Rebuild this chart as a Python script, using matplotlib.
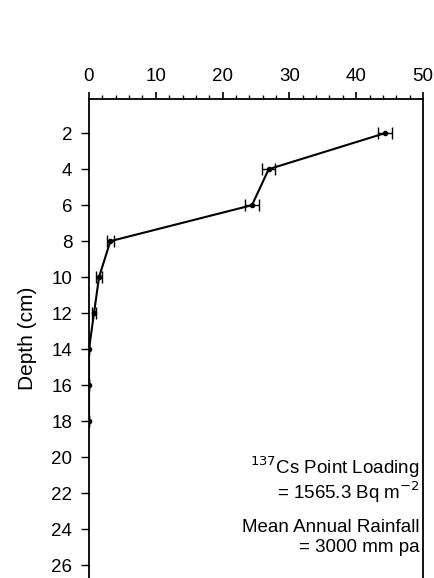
import matplotlib
matplotlib.use("Agg")
import matplotlib.pyplot as plt
from matplotlib.ticker import MultipleLocator

depth = [2, 4, 6, 8, 10, 12, 14, 16, 18]
activity = [44.3, 26.9, 24.4, 3.2, 1.5, 0.75, 0.0, 0.0, 0.0]
err = [1.0, 0.95, 1.05, 0.5, 0.4, 0.35, 0.0, 0.0, 0.0]
yticks = [2, 4, 6, 8, 10, 12, 14, 16, 18, 20, 22, 24, 26]

plt.rcParams['font.family'] = ['Liberation Sans', 'DejaVu Sans']

W, H = 435, 578
fig = plt.figure(figsize=(W / 100, H / 100), dpi=100)
left, right, top, bottom = 89, 423, 99, 578
ax = fig.add_axes([left / W, 1 - bottom / H, (right - left) / W, (bottom - top) / H])

ax.errorbar(activity, depth, xerr=err, color='black', lw=1.5, marker='o', ms=3,
            capsize=4, elinewidth=1.0, capthick=1.0)

ax.set_xlim(0, 50)
ax.set_ylim(26.72, 0.1)
ax.xaxis.tick_top()
ax.xaxis.set_major_locator(MultipleLocator(10))
ax.xaxis.set_minor_locator(MultipleLocator(2))
ax.set_yticks(yticks)
ax.tick_params(axis='x', which='major', direction='out', length=5, width=1.2, labelsize=13.5, pad=5)
ax.tick_params(axis='x', which='minor', direction='out', length=3, width=1.0)
ax.tick_params(axis='y', which='major', direction='out', length=6, width=1.0, labelsize=13.5, pad=6)
for s in ['top', 'left', 'right']:
    ax.spines[s].set_linewidth(1.3)
ax.spines['bottom'].set_visible(False)

ax.set_ylabel('Depth (cm)', fontsize=15, labelpad=10)

fs = 13.5
ax.text(0.99, 0.232, r'$^{137}$Cs Point Loading', transform=ax.transAxes, ha='right', va='center', fontsize=fs)
ax.text(0.99, 0.180, r'= 1565.3 Bq m$^{-2}$', transform=ax.transAxes, ha='right', va='center', fontsize=fs)
ax.text(0.99, 0.106, 'Mean Annual Rainfall', transform=ax.transAxes, ha='right', va='center', fontsize=fs)
ax.text(0.99, 0.064, '= 3000 mm pa', transform=ax.transAxes, ha='right', va='center', fontsize=fs)

fig.savefig('out.png', dpi=100)
